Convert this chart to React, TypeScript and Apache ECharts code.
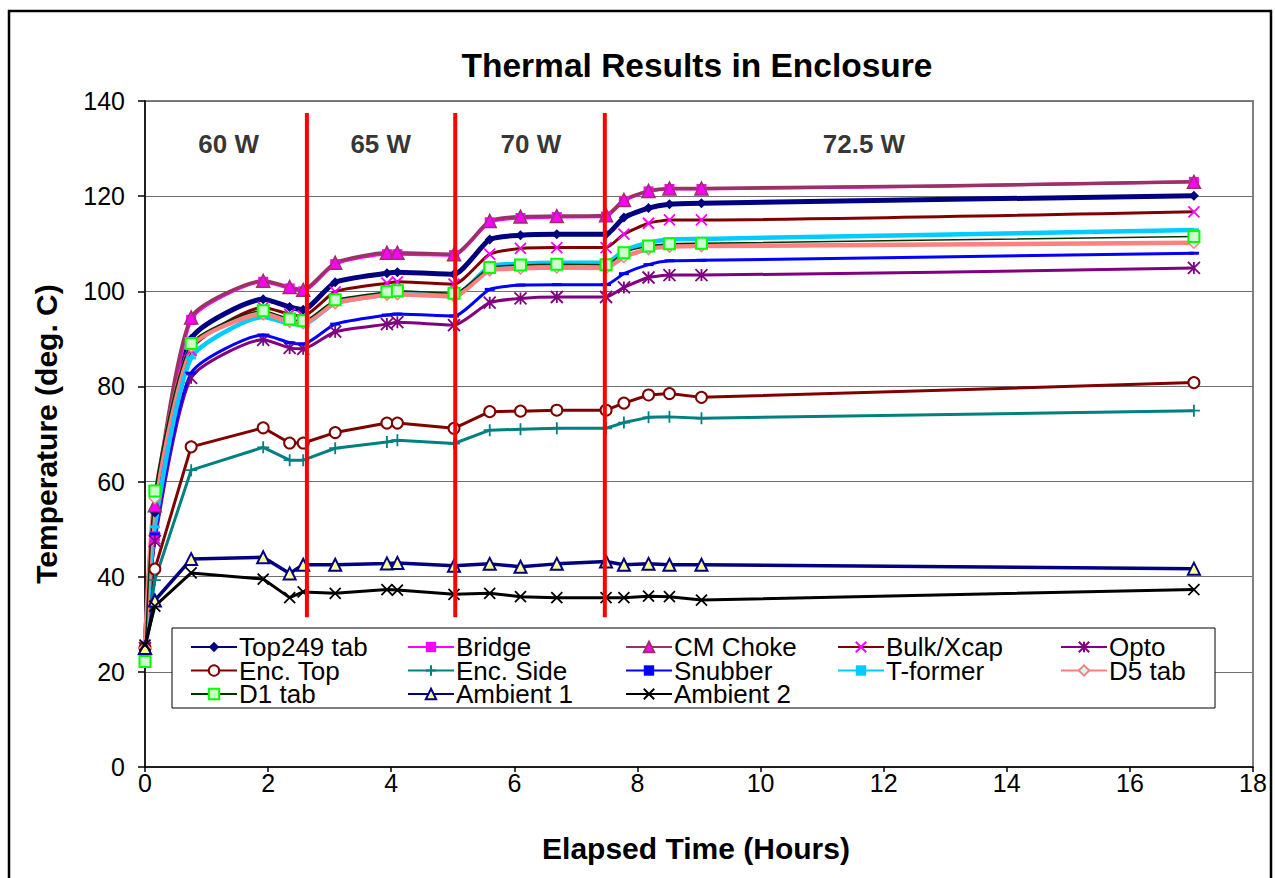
import React, { useEffect, useRef } from "react";
import * as echarts from "echarts";

// ---- data ----
const hours = [0, 0.16, 0.75, 1.92, 2.35, 2.57, 3.09, 3.93, 4.1, 5.02, 5.6, 6.1, 6.69, 7.49, 7.78, 8.18, 8.52, 9.04, 17.04];

const top249Tab = [25, 53.5, 90, 98.3, 96.7, 96.1, 101.9, 103.8, 104, 103.6, 110.9, 111.8, 112, 112, 115.5, 117.5, 118.3, 118.5, 120.1];
const bridge = [25, 48.5, 94, 102, 100.6, 100, 105.7, 107.8, 107.8, 107.6, 114.5, 115.4, 115.6, 115.7, 119, 121, 121.5, 121.5, 123];
const cmChoke = [25, 55, 94.5, 102.2, 100.9, 100.3, 106, 108.1, 108.1, 107.8, 114.8, 115.7, 115.8, 116, 119.2, 121.1, 121.6, 121.6, 123];
const bulkXcap = [25, 48, 87.6, 96.6, 95.2, 94.8, 99.9, 101.7, 102, 101.5, 107.8, 109, 109.2, 109.2, 112, 114.3, 115, 115, 116.7];
const opto = [25, 47.5, 81.8, 89.8, 88.1, 87.9, 91.5, 93.1, 93.5, 92.9, 97.6, 98.5, 98.8, 98.8, 100.8, 102.9, 103.4, 103.4, 104.9];
const encTop = [25, 41.6, 67.3, 71.3, 68.1, 68.1, 70.3, 72.3, 72.3, 71.2, 74.7, 74.8, 75, 75, 76.5, 78.2, 78.5, 77.7, 80.8];
const encSide = [25, 39.3, 62.4, 67.2, 64.5, 64.5, 67, 68.3, 68.7, 68, 70.8, 71, 71.2, 71.2, 72.4, 73.5, 73.6, 73.3, 74.9];
const snubber = [25, 49, 82.8, 90.8, 89.2, 88.9, 93.1, 95, 95.2, 94.8, 100.4, 101.3, 101.4, 101.4, 103.7, 105.6, 106.4, 106.5, 108];
const tFormer = [25, 50.5, 86, 94.6, 93.2, 93, 97.5, 99.3, 99.5, 99, 105.2, 105.8, 106, 106, 108.5, 110.2, 110.9, 111, 112.9];
const d5Tab = [25, 56.5, 88.4, 95.2, 93.6, 93.3, 97.5, 99.3, 99.4, 98.9, 104.4, 104.8, 105, 104.9, 107.2, 108.9, 109.4, 109.5, 110.2];
const d1Tab = [22.2, 58, 89, 95.9, 94.2, 93.8, 98.2, 99.9, 100.1, 99.6, 105, 105.5, 105.7, 105.6, 108.1, 109.5, 110, 110.1, 111.5];
const ambient1 = [25, 35, 43.7, 44.1, 40.7, 42.5, 42.5, 42.8, 42.9, 42.3, 42.7, 42.1, 42.7, 43.2, 42.5, 42.7, 42.5, 42.5, 41.7];
const ambient2 = [25.6, 33.8, 40.8, 39.5, 35.6, 36.8, 36.5, 37.3, 37.2, 36.3, 36.5, 35.8, 35.6, 35.6, 35.6, 35.9, 35.8, 35.1, 37.3];

const powerChangeHours = [2.63, 5.04, 7.47];
const dividerRange = [31.5, 137.5];
const powerLabels = ["60 W", "65 W", "70 W", "72.5 W"];
const powerLabelHours = [1.36, 3.83, 6.27, 11.68];
const powerLabelTemp = 131;

const xTicks = { min: 0, max: 18, interval: 2 };
const yTicks = { min: 0, max: 140, interval: 20 };

const X_PATH = "path://M0,0L10,10M10,0L0,10";
const STAR_PATH = "path://M5,0L5,10M0,0L10,10M10,0L0,10";
const PLUS_PATH = "path://M5,0L5,10M0,5L10,5";

const FONT = "'Liberation Sans', Arial, sans-serif";

function pairs(vals: number[]) {
  return hours.map((h, i) => [h, vals[i]]);
}

type Def = {
  name: string;
  data: number[];
  line: string;
  width: number;
  symbol: string;
  size: number | number[];
  fill: string;
  border?: string;
  borderWidth?: number;
  smooth?: number | boolean;
};

const defs: Def[] = [
  { name: "Top249 tab", data: top249Tab, line: "#000080", width: 5, symbol: "diamond", size: 10, fill: "#000080", smooth: 0.2 },
  { name: "Bridge", data: bridge, line: "#FF00FF", width: 3, symbol: "rect", size: 10, fill: "#FF00FF", smooth: 0.2 },
  { name: "CM Choke", data: cmChoke, line: "#993366", width: 3.5, symbol: "triangle", size: 13, fill: "#FF00FF", border: "#993366", borderWidth: 1.5, smooth: 0.2 },
  { name: "Bulk/Xcap", data: bulkXcap, line: "#800000", width: 3, symbol: X_PATH, size: 11, fill: "#FF00FF", border: "#FF00FF", borderWidth: 1.8, smooth: 0.2 },
  { name: "Opto", data: opto, line: "#800080", width: 3, symbol: STAR_PATH, size: 12, fill: "#800080", border: "#800080", borderWidth: 1.8, smooth: 0.2 },
  { name: "Enc. Top", data: encTop, line: "#800000", width: 3, symbol: "emptyCircle", size: 11, fill: "#800000", border: "#800000", borderWidth: 1.5 },
  { name: "Enc. Side", data: encSide, line: "#008080", width: 3, symbol: PLUS_PATH, size: 12, fill: "#008080", border: "#008080", borderWidth: 1.8 },
  { name: "Snubber", data: snubber, line: "#0000FF", width: 3, symbol: "rect", size: [10, 3], fill: "#0000FF", smooth: 0.2 },
  { name: "T-former", data: tFormer, line: "#00CCFF", width: 4.5, symbol: "rect", size: [10, 3], fill: "#00CCFF", smooth: 0.2 },
  { name: "D5 tab", data: d5Tab, line: "#FF8080", width: 4.5, symbol: "diamond", size: 11, fill: "#CCFFFF", border: "#FF8080", borderWidth: 1.5, smooth: 0.2 },
  { name: "D1 tab", data: d1Tab, line: "#003300", width: 1.5, symbol: "rect", size: 11, fill: "#CCFFCC", border: "#00FF00", borderWidth: 2, smooth: 0.2 },
  { name: "Ambient 1", data: ambient1, line: "#000080", width: 3.5, symbol: "triangle", size: 12, fill: "#FFFF99", border: "#000080", borderWidth: 2 },
  { name: "Ambient 2", data: ambient2, line: "#000000", width: 3, symbol: X_PATH, size: 11, fill: "#000000", border: "#000000", borderWidth: 1.8 },
];

const legendColumns = [
  { left: 185, names: ["Top249 tab", "Enc. Top", "D1 tab"] },
  { left: 402, names: ["Bridge", "Enc. Side", "Ambient 1"] },
  { left: 620, names: ["CM Choke", "Snubber", "Ambient 2"] },
  { left: 832, names: ["Bulk/Xcap", "T-former"] },
  { left: 1055, names: ["Opto", "D5 tab"] },
];

export default function App() {
  const ref = useRef<HTMLDivElement>(null);

  useEffect(() => {
    document.body.style.margin = "0";
    if (!ref.current) return;
    const chart = echarts.init(ref.current, undefined, { renderer: "svg" });

    const lineSeries = defs.map((d) => ({
      type: "line",
      name: d.name,
      data: pairs(d.data),
      smooth: d.smooth ?? false,
      symbol: d.symbol,
      symbolSize: d.size,
      showAllSymbol: true,
      lineStyle: { color: d.line, width: d.width },
      itemStyle: {
        color: d.fill,
        borderColor: d.border ?? d.fill,
        borderWidth: d.borderWidth ?? 0,
        opacity: 1,
      },
      emphasis: { disabled: true },
      z: 2,
    }));

    const dividerSeries = powerChangeHours.map((h, i) => ({
      type: "line",
      name: "divider" + i,
      data: [
        [h, dividerRange[0]],
        [h, dividerRange[1]],
      ],
      symbol: "none",
      lineStyle: { color: "#FF0000", width: 4 },
      emphasis: { disabled: true },
      z: 3,
    }));

    const labelSeries = {
      type: "scatter",
      name: "power",
      symbolSize: 0,
      data: powerLabels.map((t, i) => ({ name: t, value: [powerLabelHours[i], powerLabelTemp] })),
      label: {
        show: true,
        position: "inside",
        formatter: "{b}",
        fontFamily: FONT,
        fontSize: 26,
        fontWeight: "bold",
        color: "#000",
        textBorderWidth: 0,
      },
      emphasis: { disabled: true },
      z: 3,
    };

    const legends = legendColumns.map((c) => ({
      orient: "vertical",
      left: c.left,
      top: 629,
      data: c.names,
      itemWidth: 46,
      itemHeight: 13,
      itemGap: -2.5,
      selectedMode: false,
      textStyle: { fontFamily: FONT, fontSize: 26, color: "#000", padding: [0, 0, 0, -3] },
      z: 6,
    }));

    chart.setOption({
      animation: false,
      backgroundColor: "#fff",
      title: {
        text: "Thermal Results in Enclosure",
        left: 692,
        top: 43,
        textAlign: "center",
        textStyle: { fontFamily: FONT, fontSize: 33.5, fontWeight: "bold", color: "#000" },
      },
      grid: {
        left: 145,
        top: 101,
        width: 1108,
        height: 666,
        show: true,
        borderColor: "#808080",
        borderWidth: 2,
        backgroundColor: "transparent",
      },
      legend: legends,
      xAxis: {
        type: "value",
        ...xTicks,
        name: "Elapsed Time (Hours)",
        nameLocation: "middle",
        nameGap: 66,
        nameTextStyle: { fontFamily: FONT, fontSize: 30, fontWeight: "bold", color: "#000", padding: [0, 6, 0, 0] },
        axisLine: { show: true, onZero: false, lineStyle: { color: "#000", width: 1.5 } },
        axisTick: { show: true, length: 5, lineStyle: { color: "#000", width: 1.5 } },
        axisLabel: { fontFamily: FONT, fontSize: 25, color: "#000", margin: 3 },
        splitLine: { show: false },
      },
      yAxis: {
        type: "value",
        ...yTicks,
        name: "Temperature (deg. C)",
        nameLocation: "middle",
        nameGap: 84,
        nameTextStyle: { fontFamily: FONT, fontSize: 30, fontWeight: "bold", color: "#000" },
        axisLine: { show: true, lineStyle: { color: "#000", width: 1.5 } },
        axisTick: { show: true, length: 7, lineStyle: { color: "#000", width: 1.5 } },
        axisLabel: { fontFamily: FONT, fontSize: 25, color: "#000", margin: 20 },
        splitLine: { show: true, lineStyle: { color: "#707070", width: 1 } },
      },
      graphic: [
        {
          type: "rect",
          shape: { x: 9, y: 11, width: 1262, height: 900 },
          style: { fill: "none", stroke: "#000", lineWidth: 2.5 },
          z: 0,
          silent: true,
        },
        {
          type: "rect",
          shape: { x: 172, y: 628, width: 1043, height: 80 },
          style: { fill: "#fff", stroke: "#000", lineWidth: 1 },
          z: 4,
          silent: true,
        },
      ],
      series: [...lineSeries, ...dividerSeries, labelSeries],
    });

    return () => chart.dispose();
  }, []);

  return <div ref={ref} style={{ width: 1275, height: 878 }} />;
}
